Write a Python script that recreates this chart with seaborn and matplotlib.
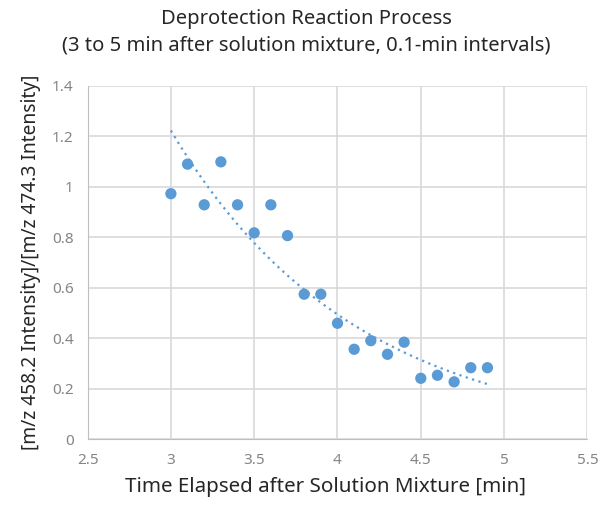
import matplotlib
matplotlib.use("Agg")
import matplotlib.pyplot as plt
import seaborn as sns
import numpy as np
import pandas as pd

# Data
time_min = [3.0, 3.1, 3.2, 3.3, 3.4, 3.5, 3.6, 3.7, 3.8, 3.9,
            4.0, 4.1, 4.2, 4.3, 4.4, 4.5, 4.6, 4.7, 4.8, 4.9]
ratio = [0.973, 1.09, 0.929, 1.099, 0.929, 0.818, 0.929, 0.807, 0.575, 0.575,
         0.460, 0.357, 0.391, 0.337, 0.385, 0.242, 0.254, 0.228, 0.284, 0.284]
x_ticks = [2.5, 3, 3.5, 4, 4.5, 5, 5.5]
x_tick_labels = ["2.5", "3", "3.5", "4", "4.5", "5", "5.5"]
y_ticks = [0, 0.2, 0.4, 0.6, 0.8, 1.0, 1.2, 1.4]
y_tick_labels = ["0", "0.2", "0.4", "0.6", "0.8", "1", "1.2", "1.4"]

df = pd.DataFrame({"time": time_min, "ratio": ratio})

# Exponential trendline (like Excel)
b, a = np.polyfit(df["time"], np.log(df["ratio"]), 1)
trend = pd.DataFrame({"time": np.linspace(min(time_min), max(time_min), 100)})
trend["ratio"] = np.exp(a + b * trend["time"])

sns.set_style("white")
plt.rcParams["font.family"] = ["Noto Sans", "DejaVu Sans"]

blue = "#5B9BD5"
fig = plt.figure(figsize=(6, 5.08), dpi=100)
ax = fig.add_axes([0.146, 0.135, 0.833, 0.696])

sns.lineplot(data=trend, x="time", y="ratio", ax=ax, color=blue,
             linestyle=(0, (1, 2)), linewidth=1.6)
sns.scatterplot(data=df, x="time", y="ratio", ax=ax, color=blue, s=66,
                edgecolor="none", zorder=3)

ax.set_xlim(2.5, 5.5)
ax.set_ylim(0, 1.4)
ax.set_xticks(x_ticks)
ax.set_xticklabels(x_tick_labels)
ax.set_yticks(y_ticks)
ax.set_yticklabels(y_tick_labels)
ax.grid(True, color="#D9D9D9", linewidth=1.2)
ax.set_axisbelow(True)
for side in ["top", "right"]:
    ax.spines[side].set_visible(False)
for side in ["left", "bottom"]:
    ax.spines[side].set_color("#BFBFBF")
ax.tick_params(axis="both", length=0, labelsize=11, labelcolor="#858585", pad=10)

ax.set_xlabel("Time Elapsed after Solution Mixture [min]", fontsize=14.8, labelpad=11)
ax.xaxis.set_label_coords(0.475, -0.105)
ax.set_ylabel("[m/z 458.2 Intensity]/[m/z 474.3 Intensity]", fontsize=13.8, labelpad=8)
fig.suptitle("Deprotection Reaction Process\n(3 to 5 min after solution mixture, 0.1-min intervals)",
             fontsize=14.5, x=0.51, y=0.982, linespacing=1.4)

fig.savefig("out.png", dpi=100)
